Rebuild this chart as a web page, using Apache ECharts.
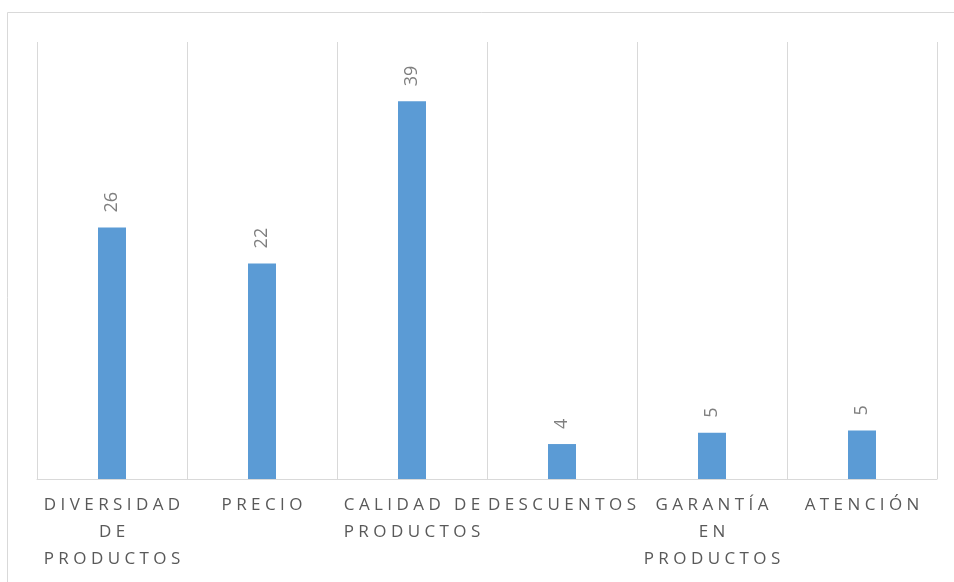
<!DOCTYPE html>
<html>
<head>
<meta charset="utf-8">
<script src="https://cdn.jsdelivr.net/npm/echarts@6/dist/echarts.min.js"></script>
<style>
html,body{margin:0;padding:0;background:#fff;}
#chart{width:954px;height:582px;}
</style>
</head>
<body>
<div id="chart"></div>
<script>
const categories = ['DIVERSIDAD\nDE\nPRODUCTOS', 'PRECIO', 'CALIDAD DE\nPRODUCTOS', 'DESCUENTOS', 'GARANTÍA\nEN\nPRODUCTOS', 'ATENCIÓN'];
const values = [25.9, 22.2, 38.9, 3.6, 4.75, 5.0];
const yMin = 0;
const yMax = 45;

function spaced(label) {
  return label.split('\n').map(function (line) {
    return line.split('').join(' ');
  }).join('\n');
}

const chart = echarts.init(document.getElementById('chart'));
chart.setOption({
  animation: false,
  backgroundColor: '#ffffff',
  graphic: [{
    type: 'rect',
    shape: { x: 7.5, y: 12.5, width: 1200, height: 1200 },
    style: { fill: 'none', stroke: '#d9d9d9', lineWidth: 1 },
    silent: true
  }],
  grid: { left: 37, right: 17, top: 42, bottom: 103, containLabel: false },
  xAxis: {
    type: 'category',
    data: categories,
    boundaryGap: true,
    axisLine: { show: true, lineStyle: { color: '#d9d9d9', width: 1 } },
    axisTick: { show: false },
    splitLine: { show: true, lineStyle: { color: '#d9d9d9', width: 1 } },
    axisLabel: {
      interval: 0,
      margin: 13,
      color: '#595959',
      fontFamily: 'Open Sans',
      fontSize: 17,
      lineHeight: 27,
      formatter: spaced
    }
  },
  yAxis: {
    type: 'value',
    min: yMin,
    max: yMax,
    show: false,
    splitLine: { show: false }
  },
  series: [{
    type: 'bar',
    data: values,
    barWidth: 28,
    itemStyle: { color: '#5b9bd5' },
    label: {
      show: true,
      position: 'top',
      distance: 15,
      rotate: 90,
      align: 'left',
      verticalAlign: 'middle',
      color: '#7f7f7f',
      fontFamily: 'Open Sans',
      fontSize: 18,
      formatter: function (p) { return String(Math.round(p.value)); }
    }
  }]
});
</script>
</body>
</html>
